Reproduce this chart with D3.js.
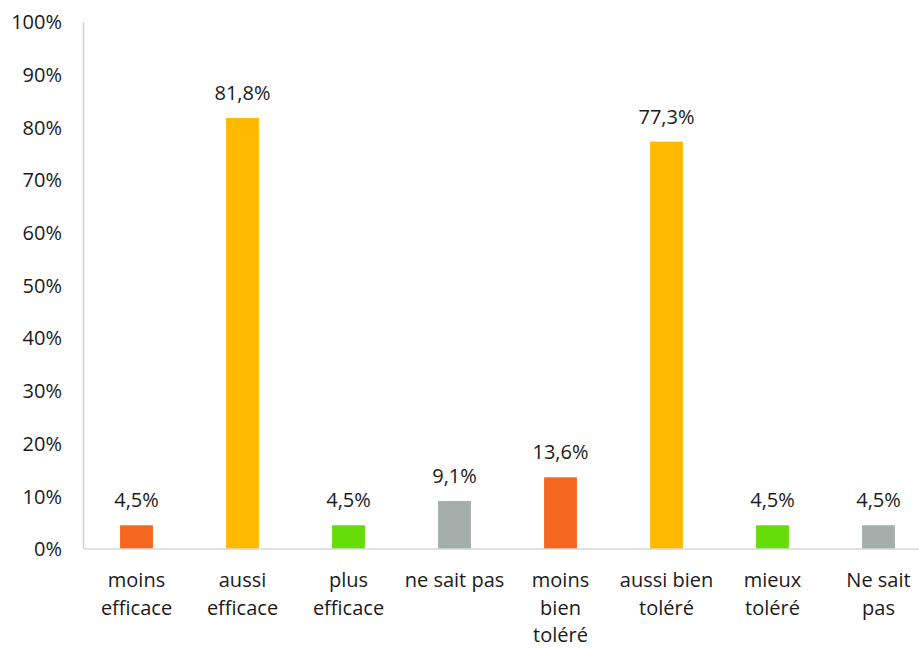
<!DOCTYPE html>
<html><head><meta charset="utf-8">
<script src="https://cdn.jsdelivr.net/npm/d3@7"></script>
<style>body{margin:0;background:#fff}svg{display:block}text{font-family:"Open Sans",sans-serif;fill:#1a1a1a}</style>
</head><body><svg id="c" width="919" height="648"></svg>
<script>
const categories = ["moins efficace","aussi efficace","plus efficace","ne sait pas","moins bien toléré","aussi bien toléré","mieux toléré","Ne sait pas"];
const labelLines = [["moins","efficace"],["aussi","efficace"],["plus","efficace"],["ne sait pas"],["moins","bien","toléré"],["aussi bien","toléré"],["mieux","toléré"],["Ne sait","pas"]];
const values = [4.5,81.8,4.5,9.1,13.6,77.3,4.5,4.5];
const valueLabels = ["4,5%","81,8%","4,5%","9,1%","13,6%","77,3%","4,5%","4,5%"];
const colors = ["#F5661F","#FFBA00","#66DC0B","#A3ADAA","#F5661F","#FFBA00","#66DC0B","#A3ADAA"];
const yTicks = [0,10,20,30,40,50,60,70,80,90,100];

const svg = d3.select("#c");
const m = {left:83.5, right:931.5, top:22, bottom:549};
const x = d3.scaleBand().domain(categories).range([m.left,m.right]).paddingInner(0.69).paddingOuter(0.345);
const y = d3.scaleLinear().domain([0,100]).range([m.bottom,m.top]);

// y axis line
svg.append("line").attr("x1",m.left).attr("x2",m.left).attr("y1",y(100)).attr("y2",m.bottom)
  .attr("stroke","#CBD3D3").attr("stroke-width",1.5);
// y labels
svg.append("g").selectAll("text").data(yTicks).join("text")
  .attr("x",62).attr("y",d=>y(d)).attr("dy","0.36em").attr("text-anchor","end")
  .style("font-size","20px").text(d=>d+"%");
// bars
svg.append("g").selectAll("rect").data(values).join("rect")
  .attr("x",(d,i)=>x(categories[i])).attr("width",x.bandwidth())
  .attr("y",d=>y(d)).attr("height",d=>y(0)-y(d)).attr("fill",(d,i)=>colors[i]);
// baseline
svg.append("line").attr("x1",m.left).attr("x2",919).attr("y1",m.bottom).attr("y2",m.bottom)
  .attr("stroke","#D4D9D9").attr("stroke-width",1.5);
// value labels
svg.append("g").selectAll("text").data(values).join("text")
  .attr("x",(d,i)=>x(categories[i])+x.bandwidth()/2).attr("y",d=>y(d)-18)
  .attr("text-anchor","middle").style("font-size","20px").text((d,i)=>valueLabels[i]);
// category labels
const g = svg.append("g").selectAll("text").data(labelLines).join("text")
  .attr("text-anchor","middle").style("font-size","20px");
g.each(function(lines,i){
  const cx = x(categories[i])+x.bandwidth()/2;
  d3.select(this).selectAll("tspan").data(lines).join("tspan")
    .attr("x",cx).attr("y",(l,j)=>587+j*27.5).text(l=>l);
});
</script></body></html>
